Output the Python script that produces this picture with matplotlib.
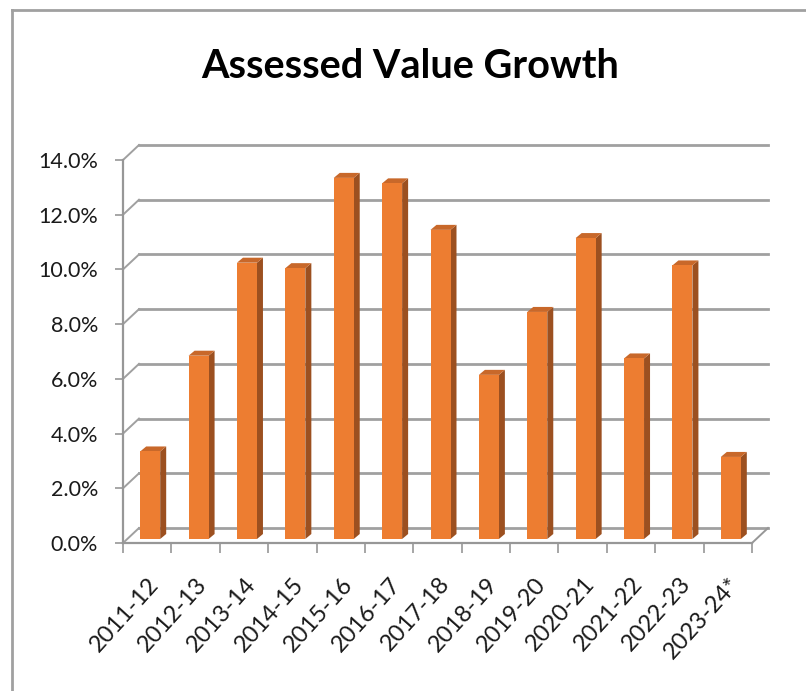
import matplotlib
matplotlib.use("Agg")
import matplotlib.pyplot as plt
from matplotlib.patches import Polygon
from matplotlib.transforms import offset_copy
from matplotlib.lines import Line2D

categories = ["2011-12", "2012-13", "2013-14", "2014-15", "2015-16", "2016-17",
              "2017-18", "2018-19", "2019-20", "2020-21", "2021-22", "2022-23", "2023-24*"]
values = [3.2, 6.7, 10.1, 9.9, 13.2, 13.0, 11.3, 6.0, 8.3, 11.0, 6.6, 10.0, 3.0]
yticks = [0, 2, 4, 6, 8, 10, 12, 14]
title = "Assessed Value Growth"

FONT = "Lato"
W, H = 806, 691
fig = plt.figure(figsize=(W / 100, H / 100), dpi=100)

# front plane of the plot box in pixels
x0p, x1p, y0p, y1p = 123, 752, 543, 160
ax = fig.add_axes([x0p / W, 1 - y0p / H, (x1p - x0p) / W, (y0p - y1p) / H])
n = len(categories)
ax.set_xlim(0, n)
ax.set_ylim(0, 14)
for s in ax.spines.values():
    s.set_visible(False)
ax.patch.set_visible(False)

ux = (x1p - x0p) / n      # px per x unit
uy = (y0p - y1p) / 14     # px per y unit

grid_c = "#a0a0a0"
axis_c = "#979797"
DX, DY = 16, 15   # back wall offset in px
back = offset_copy(ax.transData, fig=fig, x=DX, y=DY, units="dots")

# back wall gridlines and left diagonals
for t in yticks:
    ax.plot([0, n], [t, t], color=grid_c, lw=2.0, transform=back, clip_on=False, zorder=1)
    ax.plot([0, DX / ux], [t, t + DY / uy], color=grid_c, lw=1.4, clip_on=False, zorder=1)
# floor
ax.plot([0, n], [0, 0], color=axis_c, lw=1.6, clip_on=False, zorder=1)
ax.plot([n, n + DX / ux], [0, DY / uy], color=axis_c, lw=1.4, clip_on=False, zorder=1)
# left axis
ax.plot([0, 0], [0, 14], color=axis_c, lw=1.6, clip_on=False, zorder=1)

# bars (mid-depth plane)
mid = offset_copy(ax.transData, fig=fig, x=3, y=4, units="dots")
bw = 20 / ux
dxb, dyb = 6 / ux, 5 / uy
front_c, side_c, top_c = "#ED7D31", "#9C5020", "#C8682A"
for i, v in enumerate(values):
    xl = i + 0.5 - bw / 2
    xr = xl + bw
    ax.add_patch(Polygon([(xr, 0), (xr + dxb, dyb), (xr + dxb, v + dyb), (xr, v)],
                         closed=True, facecolor=side_c, edgecolor="none",
                         transform=mid, zorder=3, clip_on=False))
    ax.add_patch(Polygon([(xl, v), (xr, v), (xr + dxb, v + dyb), (xl + dxb, v + dyb)],
                         closed=True, facecolor=top_c, edgecolor="none",
                         transform=mid, zorder=3, clip_on=False))
bars = ax.bar([i + 0.5 for i in range(n)], values, width=bw, color=front_c,
              edgecolor="none", zorder=4)
for b in bars:
    b.set_transform(mid)
    b.set_clip_on(False)

# ticks
ax.set_yticks(yticks)
ax.set_yticklabels([f"{t:.1f}%" for t in yticks], fontsize=15.5, family=FONT, color="#1a1a1a")
ax.tick_params(axis="y", length=6, width=1.2, color=axis_c, pad=12)
ax.set_xticks([i + 0.5 + 8 / ux for i in range(n)])
ax.set_xticklabels(categories, rotation=48, ha="right", va="center",
                   rotation_mode="anchor", fontsize=17, family=FONT, color="#1a1a1a")
ax.tick_params(axis="x", which="major", length=0, pad=27)
ax.set_xticks(range(n + 1), minor=True)
ax.tick_params(axis="x", which="minor", length=7, width=1.2, color=axis_c)

fig.text(410 / W, 1 - 67 / H, title, ha="center", va="center",
         fontsize=28.5, fontweight="bold", family=FONT, color="black")

# chart border (left and top)
fig.add_artist(Line2D([12 / W, 12 / W], [0, 1 - 10 / H], transform=fig.transFigure,
                      color="#a0a0a0", lw=2))
fig.add_artist(Line2D([12 / W, 1], [1 - 10 / H, 1 - 10 / H], transform=fig.transFigure,
                      color="#a0a0a0", lw=2))

fig.savefig("out.png", dpi=100)
